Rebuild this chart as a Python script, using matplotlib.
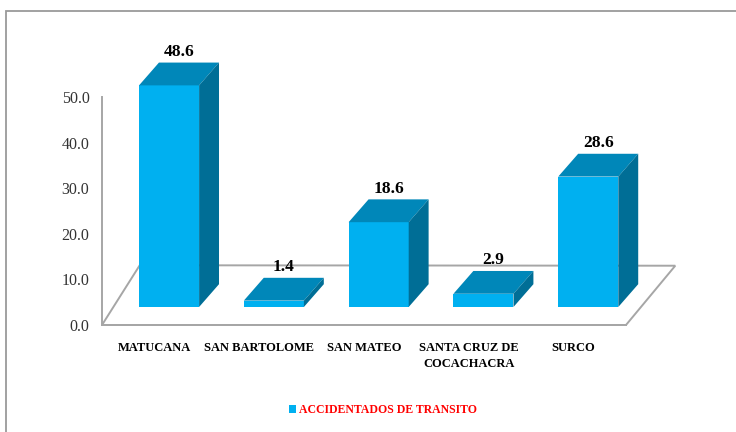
import numpy as np
import matplotlib.pyplot as plt
from matplotlib.patches import Polygon, Patch, Rectangle

# data
categories = ['MATUCANA', 'SAN BARTOLOME', 'SAN MATEO', 'SANTA CRUZ DE\nCOCACHACRA', 'SURCO']
values = [48.6, 1.4, 18.6, 2.9, 28.6]
value_labels = ['48.6', '1.4', '18.6', '2.9', '28.6']
yticks = [0, 10, 20, 30, 40, 50]
ytick_labels = ['0.0', '10.0', '20.0', '30.0', '40.0', '50.0']
series_name = 'ACCIDENTADOS DE TRANSITO'

# colours
c_front = '#00B0F0'
c_top = '#0087B9'
c_side = '#006E96'
c_grid = '#A6A6A6'

plt.rcParams['font.family'] = ['Liberation Serif', 'DejaVu Serif']

W, H = 736, 432
fig = plt.figure(figsize=(W / 100, H / 100), dpi=100)

# outer chart border (partly cropped in the source image)
fig.patches.append(Rectangle((6 / W, -0.05), 1.2, (H - 11) / H + 0.05,
                             transform=fig.transFigure, fill=False,
                             edgecolor='#9A9A9A', lw=1.3))

px_per_unit = 4.56
ymax = 65
ax = fig.add_axes([102 / W, (H - 325) / H, 524 / W, ymax * px_per_unit / H])
ax.set_xlim(-0.5, 4.5)
ax.set_ylim(0, ymax)

# 3D look parameters (data units)
floor_back_l = (0.36, 13.1)
floor_back_r = (0.47, 13.0)
off_x, off_y = 0.14, 3.95      # bar front face offset into the floor
bw = 0.573                      # bar width
ddx, ddy = 0.19, 5.0            # bar depth

# floor
x0, x1 = ax.get_xlim()
floor = Polygon([(x0, 0), (x1, 0), (x1 + floor_back_r[0], floor_back_r[1]),
                 (x0 + floor_back_l[0], floor_back_l[1])],
                closed=True, facecolor='white', edgecolor=c_grid, lw=1.4,
                zorder=1, clip_on=False)
ax.add_patch(floor)

xs = np.arange(len(categories))
ax.bar(xs + off_x, values, width=bw, bottom=off_y, color=c_front,
       zorder=3, clip_on=False)

for x, v, lab in zip(xs, values, value_labels):
    left = x + off_x - bw / 2
    right = x + off_x + bw / 2
    top = off_y + v
    ax.add_patch(Polygon([(left, top), (left + ddx, top + ddy),
                          (right + ddx, top + ddy), (right, top)],
                         closed=True, facecolor=c_top, edgecolor='none',
                         zorder=3, clip_on=False))
    ax.add_patch(Polygon([(right, off_y), (right + ddx, off_y + ddy),
                          (right + ddx, top + ddy), (right, top)],
                         closed=True, facecolor=c_side, edgecolor='none',
                         zorder=3, clip_on=False))
    ax.annotate(lab, (x + off_x + ddx / 2, top + ddy), xytext=(0, 2),
                textcoords='offset points', ha='center', va='bottom',
                fontsize=12.5, fontweight='bold', color='black')

for s in ['top', 'right']:
    ax.spines[s].set_visible(False)
ax.spines['left'].set_bounds(0, 50)
ax.spines['left'].set_color(c_grid)
ax.spines['left'].set_linewidth(1.4)
ax.spines['bottom'].set_color(c_grid)
ax.spines['bottom'].set_linewidth(1.4)
ax.patch.set_visible(False)

ax.set_yticks(yticks)
ax.set_yticklabels(ytick_labels)
ax.tick_params(axis='y', length=0, pad=9, labelsize=11.5, labelcolor='#333333')
ax.set_xticks(xs)
ax.set_xticklabels(categories, fontweight='bold', fontsize=9, linespacing=1.5)
ax.tick_params(axis='x', length=0, pad=12, labelcolor='black')

fig.legend(handles=[Patch(facecolor=c_front, label=series_name)],
           loc='center', bbox_to_anchor=(383 / W, 1 - 410 / H), frameon=False,
           handlelength=0.6, handleheight=0.6, handletextpad=0.3,
           prop={'weight': 'bold', 'size': 8.5}, labelcolor='#FF0000')

fig.savefig('out.png', dpi=100)
